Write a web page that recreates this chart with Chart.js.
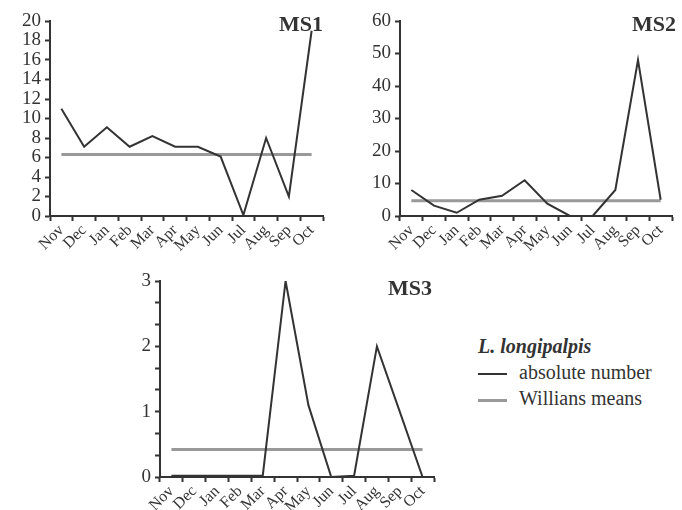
<!DOCTYPE html>
<html>
<head>
<meta charset="utf-8">
<script src="https://cdn.jsdelivr.net/npm/chart.js@4.4.1/dist/chart.umd.min.js"></script>
<style>
  body { margin: 0; background: #fff; width: 682px; height: 510px; overflow: hidden; position: relative; font-family: "Liberation Serif", serif; color: #333; }
  canvas { position: absolute; }
  .title { position: absolute; font-weight: bold; font-size: 22px; line-height: 22px; }
  .legend { position: absolute; left: 478px; top: 333px; font-size: 20px; line-height: 26px; }
  .legend .head { font-weight: bold; font-style: italic; }
  .legend .swatch { display: inline-block; width: 29px; vertical-align: middle; margin-right: 12px; }
</style>
</head>
<body>
<canvas id="c1" style="left:0;top:0" width="330" height="260"></canvas>
<canvas id="c2" style="left:340px;top:0" width="342" height="260"></canvas>
<canvas id="c3" style="left:130px;top:260px" width="310" height="250"></canvas>
<div class="title" style="left:279px;top:13px">MS1</div>
<div class="title" style="left:632px;top:13px">MS2</div>
<div class="title" style="left:388px;top:277px">MS3</div>
<div class="legend">
  <div class="head">L. longipalpis</div>
  <div><span class="swatch" style="border-top:2px solid #333"></span>absolute number</div>
  <div><span class="swatch" style="border-top:3px solid #999"></span>Willians means</div>
</div>
<script>
const months = ['Nov', 'Dec', 'Jan', 'Feb', 'Mar', 'Apr', 'May', 'Jun', 'Jul', 'Aug', 'Sep', 'Oct'];

const ms1Counts = [11, 7.1, 9.1, 7.1, 8.2, 7.1, 7.1, 6.1, 0.1, 8, 2, 19];
const ms1Means = [6.3, 6.3, 6.3, 6.3, 6.3, 6.3, 6.3, 6.3, 6.3, 6.3, 6.3, 6.3];

const ms2Counts = [8, 3.2, 1, 5, 6.2, 11, 3.8, 0, 0, 8, 48, 5];
const ms2Means = [4.7, 4.7, 4.7, 4.7, 4.7, 4.7, 4.7, 4.7, 4.7, 4.7, 4.7, 4.7];

const ms3Counts = [0.02, 0.02, 0.02, 0.02, 0.02, 3, 1.1, 0, 0.02, 2, 1, 0];
const ms3Means = [0.42, 0.42, 0.42, 0.42, 0.42, 0.42, 0.42, 0.42, 0.42, 0.42, 0.42, 0.42];

const ms1Axis = { max: 20, step: 2 };
const ms2Axis = { max: 60, step: 10 };
const ms3Axis = { max: 3, step: 1 / 3 };

function createChart(id, counts, means, axis, yWidth, xHeight, padding) {
    const ctx = document.getElementById(id).getContext('2d');
    new Chart(ctx, {
        type: 'line',
        data: {
            labels: months,
            datasets: [
                { data: counts, borderColor: '#333', borderWidth: 2, pointRadius: 0, tension: 0, order: 1 },
                { data: means, borderColor: '#999', borderWidth: 3, pointRadius: 0, tension: 0, order: 2 }
            ]
        },
        options: {
            responsive: false,
            animation: false,
            layout: { padding: padding },
            plugins: { legend: { display: false }, tooltip: { enabled: false } },
            scales: {
                x: {
                    offset: true,
                    grid: { offset: true, drawOnChartArea: false, tickLength: 5, tickWidth: 2, color: '#333' },
                    border: { color: '#333', width: 2 },
                    ticks: {
                        minRotation: 45, maxRotation: 45, autoSkip: false, padding: 0,
                        color: '#333', font: { family: 'Liberation Serif', size: 16 }
                    },
                    afterFit: function(scale) { scale.height = xHeight; }
                },
                y: {
                    min: 0, max: axis.max,
                    grid: { drawOnChartArea: false, tickLength: 5, tickWidth: 2, color: '#333' },
                    border: { color: '#333', width: 2 },
                    ticks: {
                        stepSize: axis.step, autoSkip: false, padding: 4,
                        color: '#333', font: { family: 'Liberation Serif', size: 19 },
                        callback: function(v) {
                            return Math.abs(v - Math.round(v)) < 1e-6 ? Math.round(v) : '';
                        }
                    },
                    afterFit: function(scale) { scale.width = yWidth; }
                }
            }
        }
    });
}

createChart('c1', ms1Counts, ms1Means, ms1Axis, 50, 44, { top: 21, right: 7, left: 0, bottom: 0 });
createChart('c2', ms2Counts, ms2Means, ms2Axis, 60, 44, { top: 21, right: 10, left: 0, bottom: 0 });
createChart('c3', ms3Counts, ms3Means, ms3Axis, 30, 33, { top: 21, right: 6, left: 0, bottom: 0 });
</script>
</body>
</html>
